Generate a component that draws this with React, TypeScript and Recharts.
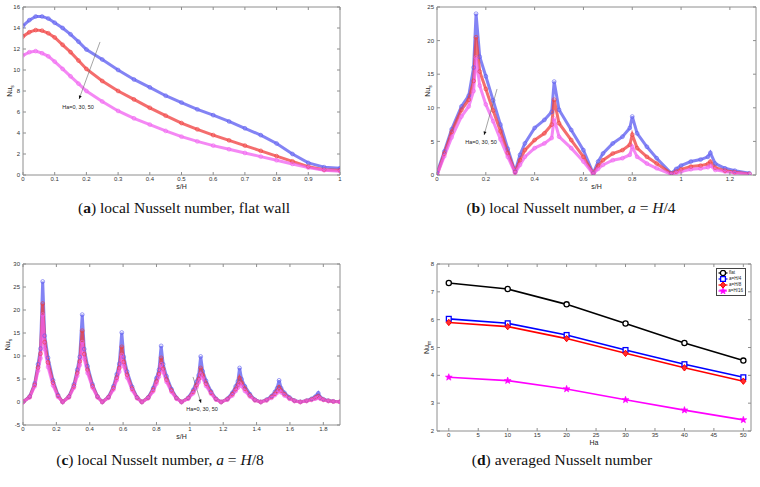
import React from 'react';
import { LineChart, Line, XAxis, YAxis, ReferenceLine, Legend } from 'recharts';

// ---- panel (a): flat wall ----
const aS = [0, 0.02, 0.04, 0.06, 0.08, 0.1, 0.125, 0.15, 0.175, 0.2, 0.25, 0.3, 0.35, 0.4, 0.45, 0.5, 0.55, 0.6, 0.65, 0.7, 0.75, 0.8, 0.85, 0.9, 0.95, 1.0];
const aHa0 = [14.2, 14.75, 15.1, 15.1, 14.9, 14.5, 14.0, 13.4, 12.7, 11.95, 11.0, 10.0, 9.1, 8.35, 7.55, 6.9, 6.25, 5.7, 5.1, 4.45, 3.8, 3.0, 2.0, 1.15, 0.75, 0.65];
const aHa30 = [13.2, 13.6, 13.8, 13.75, 13.5, 13.1, 12.4, 11.7, 10.9, 10.1, 8.95, 8.0, 7.2, 6.4, 5.65, 4.95, 4.35, 3.8, 3.3, 2.8, 2.3, 1.8, 1.3, 0.8, 0.5, 0.45];
const aHa50 = [11.4, 11.7, 11.8, 11.6, 11.3, 10.8, 10.1, 9.4, 8.7, 8.0, 7.0, 6.1, 5.4, 4.8, 4.2, 3.65, 3.2, 2.8, 2.45, 2.1, 1.75, 1.4, 1.05, 0.7, 0.45, 0.35];
const aXTicks = [0, 0.1, 0.2, 0.3, 0.4, 0.5, 0.6, 0.7, 0.8, 0.9, 1];
const aYTicks = [0, 2, 4, 6, 8, 10, 12, 14, 16];

// ---- panel (b): a = H/4 ----
const bS = [
  0, 0.03, 0.06, 0.1, 0.13, 0.15, 0.16, 0.175, 0.2, 0.23, 0.26, 0.29, 0.32,
  0.34, 0.36, 0.4, 0.44, 0.47, 0.48, 0.5, 0.55, 0.6, 0.64,
  0.66, 0.68, 0.72, 0.76, 0.79, 0.8, 0.82, 0.86, 0.9, 0.96,
  0.98, 1.0, 1.04, 1.08, 1.11, 1.12, 1.14, 1.18, 1.22, 1.28,
];
const bHa0 = [
  0.3, 3.5, 6.8, 10.2, 11.8, 16, 24, 17.6, 14.7, 11.1, 7.5, 3.9, 0.5,
  3.0, 4.7, 7.0, 8.2, 9.4, 13.9, 9.7, 6.7, 3.7, 0.25,
  2.0, 3.2, 4.7, 5.7, 7.0, 8.7, 6.2, 4.2, 2.5, 0.25,
  0.9, 1.4, 2.0, 2.3, 2.7, 3.3, 1.7, 1.0, 0.65, 0.25,
];
const bHa30 = [
  0, 3.2, 6.4, 9.7, 11.2, 14, 20.5, 15.4, 12.8, 9.6, 6.5, 3.3, 0.4,
  2.2, 3.7, 5.2, 6.2, 7.5, 11.2, 7.7, 5.2, 2.7, 0.2,
  1.4, 2.2, 3.2, 3.7, 4.5, 6.0, 4.0, 2.7, 1.7, 0.2,
  0.5, 0.85, 1.25, 1.4, 1.65, 2.0, 1.1, 0.65, 0.4, 0.15,
];
const bHa50 = [
  0, 2.8, 5.6, 8.7, 10.2, 12.5, 17.5, 13.3, 10.5, 8.0, 5.3, 2.7, 0.3,
  1.5, 2.7, 4.0, 4.7, 5.5, 8.4, 5.7, 4.0, 2.0, 0.15,
  0.9, 1.5, 2.2, 2.5, 3.0, 4.2, 2.7, 1.7, 1.0, 0.1,
  0.3, 0.5, 0.85, 0.95, 1.15, 1.4, 0.75, 0.5, 0.3, 0.1,
];
const bXTicks = [0, 0.2, 0.4, 0.6, 0.8, 1, 1.2];
const bYTicks = [0, 5, 10, 15, 20, 25];

// ---- panel (c): a = H/8 ----
const cS = [
  0, 0.04, 0.07, 0.09, 0.105, 0.118, 0.13, 0.15, 0.18, 0.21,
  0.2375, 0.275, 0.305, 0.325, 0.34, 0.355, 0.367, 0.387, 0.417, 0.447,
  0.475, 0.512, 0.542, 0.562, 0.577, 0.592, 0.604, 0.624, 0.654, 0.684,
  0.7125, 0.75, 0.78, 0.8, 0.815, 0.828, 0.84, 0.86, 0.89, 0.92,
  0.95, 0.99, 1.02, 1.04, 1.053, 1.065, 1.077, 1.097, 1.127, 1.157,
  1.1875, 1.225, 1.255, 1.275, 1.288, 1.298, 1.31, 1.33, 1.36, 1.39,
  1.425, 1.46, 1.49, 1.51, 1.523, 1.535, 1.547, 1.567, 1.597, 1.627,
  1.6625, 1.7, 1.73, 1.75, 1.76, 1.77, 1.782, 1.8, 1.83, 1.86, 1.9,
];
const cHa0 = [
  0, 1.2, 4.0, 8.2, 11.6, 26.2, 14.4, 9.6, 4.7, 1.5,
  0, 1.2, 3.8, 7.0, 9.8, 19.0, 11.5, 7.8, 3.8, 1.2,
  0, 1.1, 3.4, 6.0, 8.3, 15.1, 9.8, 6.6, 3.3, 1.0,
  0, 1.0, 3.0, 5.2, 7.0, 12.2, 8.2, 5.6, 2.8, 0.9,
  0, 0.9, 2.6, 4.4, 5.8, 9.9, 6.7, 4.6, 2.3, 0.7,
  0, 0.7, 2.0, 3.4, 4.5, 7.4, 5.0, 3.4, 1.7, 0.5,
  0, 0.5, 1.3, 2.2, 3.0, 4.7, 3.0, 2.0, 1.0, 0.3,
  0.05, 0.3, 0.7, 1.1, 1.4, 1.9, 1.0, 0.6, 0.3, 0.15, 0.05,
];
const cHa30 = [
  0, 1.1, 3.7, 7.5, 10.5, 21.4, 13.0, 8.6, 4.2, 1.3,
  0, 1.1, 3.4, 6.3, 8.8, 15.5, 10.4, 7.0, 3.4, 1.1,
  0, 1.0, 3.0, 5.3, 7.4, 12.0, 8.7, 5.9, 2.9, 0.9,
  0, 0.9, 2.6, 4.5, 6.1, 9.6, 7.2, 4.9, 2.5, 0.8,
  0, 0.8, 2.2, 3.7, 5.0, 7.4, 5.9, 4.0, 2.0, 0.6,
  0, 0.6, 1.7, 2.8, 3.7, 5.2, 4.2, 2.9, 1.4, 0.4,
  0, 0.4, 1.1, 1.8, 2.4, 3.2, 2.5, 1.7, 0.8, 0.25,
  0, 0.25, 0.55, 0.85, 1.05, 1.3, 0.8, 0.5, 0.25, 0.1, 0.05,
];
const cHa50 = [
  0, 1.0, 3.4, 6.8, 9.5, 19.0, 11.5, 7.6, 3.6, 1.1,
  0, 1.0, 3.1, 5.7, 8.0, 13.0, 9.4, 6.3, 3.1, 1.0,
  0, 0.9, 2.7, 4.8, 6.6, 10.2, 7.8, 5.3, 2.6, 0.8,
  0, 0.8, 2.3, 4.0, 5.5, 8.2, 6.5, 4.4, 2.2, 0.7,
  0, 0.7, 1.9, 3.2, 4.3, 6.0, 5.2, 3.5, 1.8, 0.5,
  0, 0.5, 1.4, 2.4, 3.1, 4.0, 3.5, 2.4, 1.2, 0.35,
  0, 0.35, 0.9, 1.5, 2.0, 2.5, 2.1, 1.4, 0.7, 0.2,
  0, 0.2, 0.45, 0.7, 0.85, 1.0, 0.7, 0.45, 0.2, 0.1, 0.05,
];
const cXTicks = [0, 0.2, 0.4, 0.6, 0.8, 1, 1.2, 1.4, 1.6, 1.8];
const cYTicks = [-5, 0, 5, 10, 15, 20, 25, 30];

// ---- panel (d): averaged Nusselt number ----
const dHa = [0, 10, 20, 30, 40, 50];
const dFlat = [7.32, 7.1, 6.55, 5.86, 5.16, 4.53];
const dH4 = [6.03, 5.87, 5.45, 4.91, 4.4, 3.93];
const dH8 = [5.9, 5.75, 5.32, 4.79, 4.27, 3.79];
const dH16 = [3.93, 3.81, 3.51, 3.12, 2.75, 2.4];
const dXTicks = [0, 5, 10, 15, 20, 25, 30, 35, 40, 45, 50];
const dYTicks = [2, 3, 4, 5, 6, 7, 8];

const haNote = 'Ha=0, 30, 50';

const AXIS = '#8e8e8e';
const SANS = '"Liberation Sans", Arial, sans-serif';
const SERIF = '"Liberation Serif", "DejaVu Serif", serif';
const BLUE = '#5a5af0';
const RED = '#f03c3c';
const MAGENTA = '#f060f0';

const tickStyle = { fill: '#333', fontSize: 6, fontFamily: SANS };

// top / right edges of the MATLAB-style box, with inward ticks
const topTick = (p: any) => {
    const yt = Math.min(p.y1, p.y2);
    return <line x1={p.x1} y1={yt} x2={p.x1} y2={yt + 3} stroke={AXIS} strokeWidth={1} />;
};
const rightTick = (p: any) => {
    const xr = Math.max(p.x1, p.x2);
    return <line x1={xr - 3} y1={p.y1} x2={xr} y2={p.y1} stroke={AXIS} strokeWidth={1} />;
};

function boxLines(xDomain: number[], xTicks: number[], yDomain: number[], yTicks: number[]) {
    return [
        <ReferenceLine key="bt" y={yDomain[1]} stroke={AXIS} strokeWidth={1} />,
        <ReferenceLine key="br" x={xDomain[1]} stroke={AXIS} strokeWidth={1} />,
        ...xTicks.map((t) => <ReferenceLine key={`tx${t}`} x={t} shape={topTick} />),
        ...yTicks.map((t) => <ReferenceLine key={`ty${t}`} y={t} shape={rightTick} />),
    ];
}

const yLabel = (sub: string, dx: number) => (props: any) => {
    const vb = props.viewBox;
    const cx = vb.x + dx;
    const cy = vb.y + vb.height / 2;
    return (
        <text transform={`translate(${cx},${cy}) rotate(-90)`} textAnchor="middle" fontFamily={SANS} fontSize={7} fill="#222">
            Nu<tspan fontSize={5} dy={2}>{sub}</tspan>
        </text>
    );
};

const xLabel = (text: string) => (props: any) => {
    const vb = props.viewBox;
    return (
        <text x={vb.x + vb.width / 2} y={vb.y + 13.5} textAnchor="middle" fontFamily={SANS} fontSize={7} fill="#222">
            {text}
        </text>
    );
};

const arrowShape = (dx: number, dy: number) => (p: any) => {
    const { x1, y1, x2, y2 } = p;
    const ang = Math.atan2(y2 - y1, x2 - x1);
    const c = Math.cos(ang);
    const s = Math.sin(ang);
    const bx = x2 - 3.5 * c;
    const by = y2 - 3.5 * s;
    const pts = `${x2},${y2} ${bx - 1.5 * s},${by + 1.5 * c} ${bx + 1.5 * s},${by - 1.5 * c}`;
    return (
        <g>
            <line x1={x1} y1={y1} x2={x2} y2={y2} stroke="#666" strokeWidth={0.6} />
            <polygon points={pts} fill="#111" />
            <text x={x2 + dx} y={y2 + dy} textAnchor="middle" fontFamily={SANS} fontSize={5.5} fill="#222">{haNote}</text>
        </g>
    );
};

interface LocalProps {
    xs: number[];
    ha0: number[];
    ha30: number[];
    ha50: number[];
    xDomain: number[];
    xTicks: number[];
    yDomain: number[];
    yTicks: number[];
    width: number;
    height: number;
    margin: { top: number; right: number; bottom: number; left: number };
    yAxisWidth: number;
    yLabelDx: number;
    arrow: { x1: number; y1: number; x2: number; y2: number; dx: number; dy: number };
}

function LocalChart(p: LocalProps) {
    const data = p.xs.map((s, i) => ({ s, ha0: p.ha0[i], ha30: p.ha30[i], ha50: p.ha50[i] }));
    const series = [
        { key: 'ha0', color: BLUE },
        { key: 'ha30', color: RED },
        { key: 'ha50', color: MAGENTA },
    ];
    return (
        <LineChart width={p.width} height={p.height} data={data} margin={p.margin}>
            <XAxis dataKey="s" type="number" domain={p.xDomain} ticks={p.xTicks} interval={0} allowDataOverflow
                stroke={AXIS} tickSize={-3} tickMargin={5} tick={tickStyle} height={25}
                label={{ content: xLabel('s/H') }} />
            <YAxis type="number" domain={p.yDomain} ticks={p.yTicks} interval={0} allowDataOverflow
                stroke={AXIS} tickSize={-3} tickMargin={6} tick={tickStyle} width={p.yAxisWidth}
                label={{ content: yLabel('s', p.yLabelDx) }} />
            {boxLines(p.xDomain, p.xTicks, p.yDomain, p.yTicks)}
            {series.map((sr) => (
                <Line key={sr.key} dataKey={sr.key} type="linear" stroke={sr.color} strokeWidth={3} strokeOpacity={0.75}
                    dot={{ r: 1.9, fill: 'none', stroke: sr.color, strokeWidth: 0.8 }} isAnimationActive={false} />
            ))}
            <ReferenceLine segment={[{ x: p.arrow.x1, y: p.arrow.y1 }, { x: p.arrow.x2, y: p.arrow.y2 }]}
                shape={arrowShape(p.arrow.dx, p.arrow.dy)} />
        </LineChart>
    );
}

// marker shapes for panel (d)
const circleDot = (props: any) => (
    <circle key={`c${props.index}`} cx={props.cx} cy={props.cy} r={2.6} fill="#fff" stroke="#000" strokeWidth={1.3} />
);
const squareDot = (props: any) => (
    <rect key={`q${props.index}`} x={props.cx - 2.4} y={props.cy - 2.4} width={4.8} height={4.8} fill="#fff" stroke="#0000ff" strokeWidth={1.3} />
);
const diamondDot = (props: any) => (
    <polygon key={`d${props.index}`} points={`${props.cx},${props.cy - 3.2} ${props.cx + 2.6},${props.cy} ${props.cx},${props.cy + 3.2} ${props.cx - 2.6},${props.cy}`}
        fill="#ff3030" stroke="#ff0000" strokeWidth={1} />
);
const starPoints = (cx: number, cy: number, R: number) => {
    const pts: string[] = [];
    for (let i = 0; i < 10; i++) {
        const rr = i % 2 === 0 ? R : R * 0.42;
        const a = -Math.PI / 2 + (i * Math.PI) / 5;
        pts.push(`${cx + rr * Math.cos(a)},${cy + rr * Math.sin(a)}`);
    }
    return pts.join(' ');
};
const starDot = (props: any) => (
    <polygon key={`s${props.index}`} points={starPoints(props.cx, props.cy, 3.6)} fill="#ff00ff" stroke="#ff00ff" strokeWidth={0.6} />
);

const dSeries = [
    { key: 'flat', name: 'flat', color: '#000000', dot: circleDot },
    { key: 'h4', name: 'a=H/4', color: '#0000ff', dot: squareDot },
    { key: 'h8', name: 'a=H/8', color: '#ff0000', dot: diamondDot },
    { key: 'h16', name: 'a=H/16', color: '#ff00ff', dot: starDot },
];

function AvgLegend() {
    return (
        <div style={{ border: '0.6px solid #444', background: '#fff', padding: '1px 2px 1px 1px', width: 25, boxSizing: 'content-box' }}>
            {dSeries.map((sr) => (
                <div key={sr.key} style={{ display: 'flex', alignItems: 'center', height: 6 }}>
                    <svg width={10} height={6} style={{ display: 'block' }}>
                        <line x1={0.5} y1={3} x2={9.5} y2={3} stroke={sr.color} strokeWidth={1.2} />
                        {sr.dot({ cx: 5, cy: 3, index: 'legend' })}
                    </svg>
                    <span style={{ fontFamily: SANS, fontSize: 4.5, color: '#222', marginLeft: 1, lineHeight: '6px', whiteSpace: 'nowrap' }}>{sr.name}</span>
                </div>
            ))}
        </div>
    );
}

function AvgChart() {
    const data = dHa.map((ha, i) => ({ ha, flat: dFlat[i], h4: dH4[i], h8: dH8[i], h16: dH16[i] }));
    const xDomain = [-2, 51.3];
    const yDomain = [2, 8];
    return (
        <LineChart width={380} height={225} data={data} margin={{ top: 39, right: 9, bottom: 0, left: 0 }}>
            <XAxis dataKey="ha" type="number" domain={xDomain} ticks={dXTicks} interval={0} allowDataOverflow
                stroke={AXIS} tickSize={-3} tickMargin={5} tick={tickStyle} height={19}
                label={{ content: xLabel('Ha') }} />
            <YAxis type="number" domain={yDomain} ticks={dYTicks} interval={0} allowDataOverflow
                stroke={AXIS} tickSize={-3} tickMargin={6} tick={tickStyle} width={57}
                label={{ content: yLabel('m', 49) }} />
            {boxLines(xDomain, dXTicks, yDomain, dYTicks)}
            {dSeries.map((sr) => (
                <Line key={sr.key} dataKey={sr.key} name={sr.name} type="linear" stroke={sr.color} strokeWidth={1.6}
                    dot={sr.dot} isAnimationActive={false} />
            ))}
            <Legend layout="vertical" align="center" verticalAlign="middle" content={() => <AvgLegend />}
                wrapperStyle={{ left: 336, top: 43, width: 'auto', height: 'auto' }} />
        </LineChart>
    );
}

const capStyle = (cx: number, cy: number, size: number): React.CSSProperties => ({
    position: 'absolute', left: cx - 200, top: cy - size * 0.62, width: 400, textAlign: 'center',
    fontFamily: SERIF, fontSize: size, lineHeight: `${size * 1.2}px`, color: '#111', whiteSpace: 'nowrap',
});

export default function App() {
    return (
        <div style={{ position: 'absolute', left: 0, top: 0, width: 760, height: 487, background: '#fff', overflow: 'hidden' }}>
            <div style={{ position: 'absolute', left: 0, top: 0 }}>
                <LocalChart xs={aS} ha0={aHa0} ha30={aHa30} ha50={aHa50}
                    xDomain={[0, 1]} xTicks={aXTicks} yDomain={[0, 16]} yTicks={aYTicks}
                    width={380} height={200} margin={{ top: 7, right: 40, bottom: 0, left: 0 }} yAxisWidth={23} yLabelDx={12}
                    arrow={{ x1: 0.243, y1: 12.67, x2: 0.177, y2: 7.24, dx: -1, dy: 10 }} />
            </div>
            <div style={{ position: 'absolute', left: 380, top: 0 }}>
                <LocalChart xs={bS} ha0={bHa0} ha30={bHa30} ha50={bHa50}
                    xDomain={[0, 1.307]} xTicks={bXTicks} yDomain={[0, 25]} yTicks={bYTicks}
                    width={380} height={200} margin={{ top: 7, right: 4, bottom: 0, left: 0 }} yAxisWidth={57} yLabelDx={50}
                    arrow={{ x1: 0.246, y1: 12.8, x2: 0.193, y2: 5.95, dx: -3, dy: 9 }} />
            </div>
            <div style={{ position: 'absolute', left: 0, top: 225 }}>
                <LocalChart xs={cS} ha0={cHa0} ha30={cHa30} ha50={cHa50}
                    xDomain={[0, 1.9]} xTicks={cXTicks} yDomain={[-5, 30]} yTicks={cYTicks}
                    width={380} height={225} margin={{ top: 39, right: 40, bottom: 0, left: 0 }} yAxisWidth={23} yLabelDx={10}
                    arrow={{ x1: 1.019, y1: 5.45, x2: 1.067, y2: -0.2, dx: 1, dy: 8 }} />
            </div>
            <div style={{ position: 'absolute', left: 380, top: 225 }}>
                <AvgChart />
            </div>

            <div style={capStyle(184, 209, 15.5)}>(<b>a</b>) local Nusselt number, flat wall</div>
            <div style={capStyle(571, 209, 15.5)}>(<b>b</b>) local Nusselt number, <i>a</i> = <i>H</i>/4</div>
            <div style={capStyle(160, 461, 15.5)}>(<b>c</b>) local Nusselt number, <i>a</i> = <i>H</i>/8</div>
            <div style={capStyle(562, 461, 15.5)}>(<b>d</b>) averaged Nusselt number</div>
        </div>
    );
}
